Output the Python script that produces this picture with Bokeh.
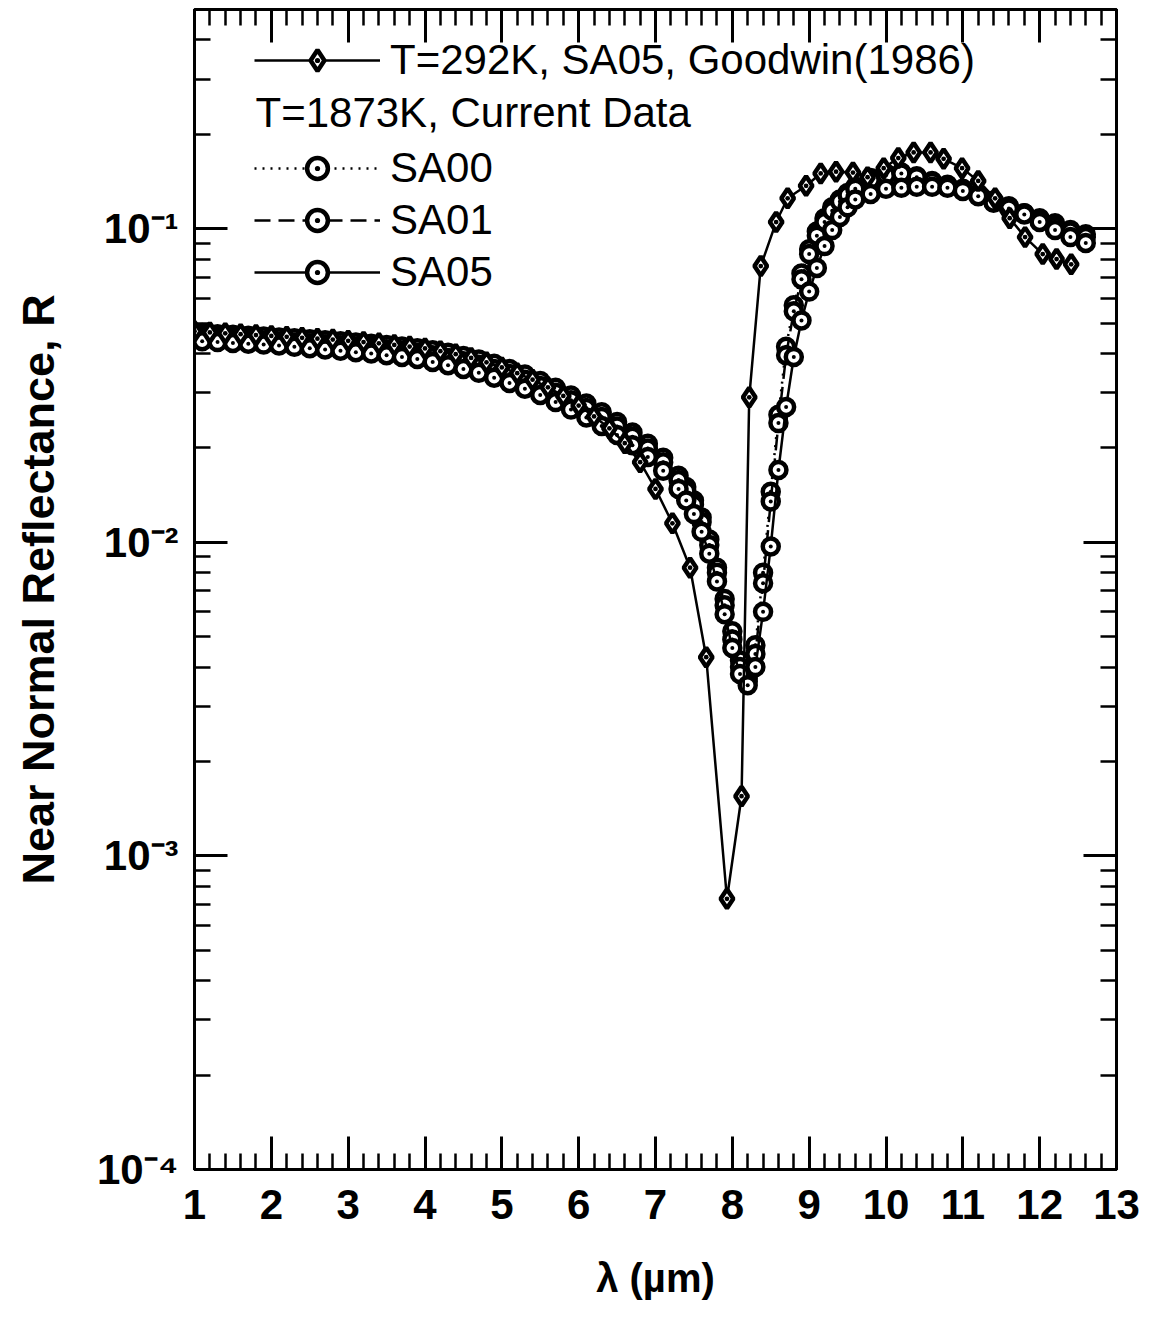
from bokeh.plotting import figure
from bokeh.models import (LogAxis, LinearAxis, Range1d, FixedTicker, SingleIntervalTicker,
                          Legend, LegendItem, Label, CustomJSTickFormatter)
from bokeh.embed import file_html
from bokeh.resources import INLINE

FONT = "Liberation Sans"

# ---- data ----
goodwin_x = [1.0, 1.2, 1.4, 1.6, 1.8, 2.0, 2.2, 2.4, 2.6, 2.8, 3.0, 3.2, 3.4, 3.6, 3.8,
             4.0, 4.2, 4.4, 4.6, 4.8, 5.0, 5.2, 5.4, 5.6, 5.8, 6.0, 6.2, 6.4, 6.6, 6.8,
             7.0, 7.22, 7.45, 7.66, 7.93, 8.12, 8.22, 8.37, 8.57, 8.72, 8.96, 9.15, 9.35,
             9.57, 9.76, 9.97, 10.16, 10.36, 10.58, 10.75, 10.99, 11.20, 11.42, 11.61,
             11.81, 12.04, 12.22, 12.41]
goodwin_r = [0.0471, 0.0467, 0.0464, 0.0461, 0.0458, 0.0455, 0.0452, 0.0449, 0.0446, 0.0443,
             0.0439, 0.0435, 0.0431, 0.0426, 0.0421, 0.0415, 0.0407, 0.0398, 0.0387, 0.0375,
             0.0361, 0.0346, 0.0330, 0.0312, 0.0293, 0.0273, 0.0252, 0.0231, 0.0207, 0.0180,
             0.0148, 0.0115, 0.0083, 0.0043, 0.00073, 0.00155, 0.029, 0.076, 0.105, 0.125,
             0.137, 0.150, 0.152, 0.151, 0.146, 0.156, 0.168, 0.175, 0.175, 0.167, 0.156,
             0.142, 0.125, 0.108, 0.094, 0.083, 0.080, 0.077]

sa_x = [1.1, 1.3, 1.5, 1.7, 1.9, 2.1, 2.3, 2.5, 2.7, 2.9, 3.1, 3.3, 3.5, 3.7, 3.9, 4.1,
        4.3, 4.5, 4.7, 4.9, 5.1, 5.3, 5.5, 5.7, 5.9, 6.1, 6.3, 6.5, 6.7, 6.9, 7.1, 7.3,
        7.4, 7.5, 7.6, 7.7, 7.8, 7.9, 8.0, 8.1, 8.2, 8.3, 8.4, 8.5, 8.6, 8.7, 8.8, 8.9,
        9.0, 9.1, 9.2, 9.3, 9.4, 9.5, 9.6, 9.8, 10.0, 10.2, 10.4, 10.6, 10.8, 11.0, 11.2,
        11.4, 11.6, 11.8, 12.0, 12.2, 12.4, 12.6]
sa00_r = [0.0465, 0.0461, 0.0459, 0.0456, 0.0453, 0.0450, 0.0447, 0.0444, 0.0441, 0.0438,
          0.0434, 0.0430, 0.0426, 0.0421, 0.0416, 0.0410, 0.0402, 0.0393, 0.0383, 0.0371,
          0.0357, 0.0343, 0.0327, 0.0311, 0.0294, 0.0277, 0.0260, 0.0242, 0.0224, 0.0206,
          0.0186, 0.0163, 0.0150, 0.0136, 0.0120, 0.0102, 0.0083, 0.0066, 0.0052, 0.0042,
          0.0037, 0.0047, 0.0080, 0.0145, 0.0255, 0.0420, 0.0570, 0.0720, 0.0860, 0.0980,
          0.1080, 0.1170, 0.1240, 0.1300, 0.1360, 0.1450, 0.1500, 0.1510, 0.1470, 0.1420,
          0.1380, 0.1340, 0.1290, 0.1230, 0.1180, 0.1120, 0.1080, 0.1040, 0.0990, 0.0960]
sa01_r = [0.0452, 0.0448, 0.0446, 0.0443, 0.0440, 0.0437, 0.0434, 0.0431, 0.0428, 0.0425,
          0.0421, 0.0417, 0.0413, 0.0408, 0.0402, 0.0395, 0.0387, 0.0378, 0.0368, 0.0357,
          0.0344, 0.0330, 0.0315, 0.0300, 0.0284, 0.0268, 0.0251, 0.0234, 0.0217, 0.0199,
          0.0180, 0.0158, 0.0146, 0.0132, 0.0116, 0.0098, 0.0080, 0.0063, 0.0049, 0.0040,
          0.0036, 0.0044, 0.0074, 0.0135, 0.0240, 0.0395, 0.0545, 0.0690, 0.0830, 0.0950,
          0.1050, 0.1140, 0.1220, 0.1280, 0.1340, 0.1430, 0.1480, 0.1500, 0.1460, 0.1410,
          0.1370, 0.1330, 0.1280, 0.1220, 0.1170, 0.1120, 0.1070, 0.1020, 0.0980, 0.0940]
sa05_r = [0.0438, 0.0435, 0.0432, 0.0430, 0.0427, 0.0424, 0.0420, 0.0416, 0.0412, 0.0408,
          0.0404, 0.0400, 0.0395, 0.0390, 0.0384, 0.0376, 0.0367, 0.0357, 0.0347, 0.0335,
          0.0322, 0.0309, 0.0295, 0.0280, 0.0265, 0.0250, 0.0235, 0.0220, 0.0204, 0.0187,
          0.0169, 0.0148, 0.0136, 0.0123, 0.0108, 0.0092, 0.0075, 0.0059, 0.0046, 0.0038,
          0.0035, 0.0040, 0.0060, 0.0097, 0.0170, 0.0270, 0.0390, 0.0510, 0.0630, 0.0750,
          0.0880, 0.0990, 0.1090, 0.1170, 0.1240, 0.1290, 0.1340, 0.1350, 0.1360, 0.1360,
          0.1350, 0.1320, 0.1270, 0.1210, 0.1160, 0.1110, 0.1050, 0.0990, 0.0940, 0.0900]

y_major_ticks = [1e-4, 1e-3, 1e-2, 1e-1]
y_minor_ticks = [m * d for d in (1e-4, 1e-3, 1e-2) for m in range(2, 10)] + [0.2, 0.3, 0.4]

legend_goodwin = "T=292K, SA05, Goodwin(1986)"
legend_heading = "T=1873K, Current Data"
legend_sa = ["SA00", "SA01", "SA05"]

# ---- figure ----
p = figure(width=1142, height=1319, x_range=Range1d(1, 13), y_range=Range1d(1e-4, 0.5),
           y_axis_type="log", output_backend="svg", toolbar_location=None,
           min_border_left=194, min_border_right=26, min_border_top=9, min_border_bottom=150)
p.grid.visible = False
p.outline_line_color = "black"
p.outline_line_width = 3
p.background_fill_color = "white"
p.border_fill_color = "white"

blank = CustomJSTickFormatter(code="return '';")

def style_axis(ax, labels=True):
    ax.axis_line_width = 3
    ax.axis_line_color = "black"
    ax.major_tick_line_width = 3
    ax.minor_tick_line_width = 2.5
    ax.major_tick_in = 33
    ax.major_tick_out = 0
    ax.minor_tick_in = 16
    ax.minor_tick_out = 0
    ax.major_label_text_color = "black"
    ax.axis_label_text_color = "black"
    if not labels:
        ax.formatter = blank
        ax.major_label_standoff = 0
        ax.major_label_text_font_size = "10px"

xt = SingleIntervalTicker(interval=1, num_minor_ticks=5)
yt = FixedTicker(ticks=y_major_ticks, minor_ticks=y_minor_ticks)
fmt = CustomJSTickFormatter(code="""
const e = Math.round(Math.log10(tick));
const sup = {'-':'\u207b','0':'\u2070','1':'\u00b9','2':'\u00b2','3':'\u00b3','4':'\u2074'};
return '10' + String(e).split('').map(c => sup[c]).join('');
""")

xa = p.xaxis[0]
xa.ticker = xt
style_axis(xa)
xa.major_label_text_font = FONT
xa.major_label_text_font_style = "bold"
xa.major_label_text_font_size = "42px"
xa.major_label_standoff = 20
xa.axis_label = "\u03bb (\u00b5m)"
xa.axis_label_text_font = FONT
xa.axis_label_text_font_style = "bold"
xa.axis_label_text_font_size = "40px"
xa.axis_label_standoff = 34

ya = p.yaxis[0]
ya.ticker = yt
ya.formatter = fmt
style_axis(ya)
ya.major_label_text_font = FONT
ya.major_label_text_font_style = "bold"
ya.major_label_text_font_size = "42px"
ya.major_label_standoff = 16
ya.axis_label = "Near Normal Reflectance, R"
ya.axis_label_text_font = FONT
ya.axis_label_text_font_style = "bold"
ya.axis_label_text_font_size = "45px"
ya.axis_label_standoff = 30

top = LinearAxis(ticker=SingleIntervalTicker(interval=1, num_minor_ticks=5))
style_axis(top, labels=False)
p.add_layout(top, "above")
right = LogAxis(ticker=FixedTicker(ticks=y_major_ticks, minor_ticks=y_minor_ticks))
style_axis(right, labels=False)
p.add_layout(right, "right")

# ---- series ----
MK = dict(line_color="black", fill_color="white")
l00 = p.line(sa_x, sa00_r, line_color="black", line_width=2.5, line_dash="2 6")
s00 = p.scatter(sa_x, sa00_r, marker="circle_dot", size=16, line_width=4.5, **MK)
l01 = p.line(sa_x, sa01_r, line_color="black", line_width=2.5, line_dash="16 8")
s01 = p.scatter(sa_x, sa01_r, marker="circle_dot", size=16, line_width=4.5, **MK)
l05 = p.line(sa_x, sa05_r, line_color="black", line_width=2.5)
s05 = p.scatter(sa_x, sa05_r, marker="circle_dot", size=16, line_width=4.5, **MK)
lg = p.line(goodwin_x, goodwin_r, line_color="black", line_width=2.5)
sg = p.scatter(goodwin_x, goodwin_r, marker="diamond_dot", size=19, line_width=4.5, **MK)

def make_legend(items, loc):
    leg = Legend(items=items, location="top_left", label_text_font=FONT,
                 label_text_font_size="42px", label_text_color="black",
                 glyph_width=126, glyph_height=52,
                 label_height=52, label_standoff=10, spacing=0, padding=0,
                 border_line_alpha=0, background_fill_alpha=0)
    leg.margin = 0
    leg.location = loc
    return leg

leg1 = make_legend([LegendItem(label=legend_goodwin, renderers=[lg, sg])], (60, 1083))
leg2 = make_legend([LegendItem(label=legend_sa[0], renderers=[l00, s00]),
                    LegendItem(label=legend_sa[1], renderers=[l01, s01]),
                    LegendItem(label=legend_sa[2], renderers=[l05, s05])], (60, 871))
p.add_layout(leg1)
p.add_layout(leg2)

p.add_layout(Label(x=61, y=1057, x_units="screen", y_units="screen", text=legend_heading,
                   text_font=FONT, text_font_size="42px", text_color="black",
                   text_baseline="middle", text_align="left"))

open("out.html", "w").write(file_html(p, INLINE))
